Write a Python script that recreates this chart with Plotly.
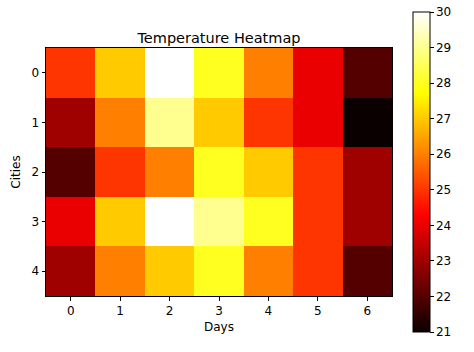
import numpy as np
import plotly.graph_objects as go

days = [0, 1, 2, 3, 4, 5, 6]
cities = [0, 1, 2, 3, 4]
temps = [
    [25, 27, 30, 28, 26, 24, 22],
    [23, 26, 29, 27, 25, 24, 21],
    [22, 25, 26, 28, 27, 25, 23],
    [24, 27, 30, 29, 28, 25, 23],
    [23, 26, 27, 28, 26, 25, 22],
]
cb_ticks = [21, 22, 23, 24, 25, 26, 27, 28, 29, 30]

def hot(x):
    r = min(1.0, 0.0416 + (1 - 0.0416) * x / 0.365079)
    g = min(1.0, max(0.0, (x - 0.365079) / (0.746032 - 0.365079)))
    b = min(1.0, max(0.0, (x - 0.746032) / (1 - 0.746032)))
    return f"rgb({int(round(r*255))},{int(round(g*255))},{int(round(b*255))})"

stops = sorted(set(list(np.linspace(0, 1, 41)) + [0.365079, 0.746032]))
colorscale = [[float(s), hot(s)] for s in stops]

font = "DejaVu Sans"
fs = 12
fig = go.Figure(go.Heatmap(
    z=temps, x=days, y=cities,
    colorscale=colorscale, zmin=21, zmax=30,
    xgap=0, ygap=0,
    colorbar=dict(
        x=1.061, xanchor="left", xref="paper",
        y=0.5, yanchor="middle",
        len=320, lenmode="pixels",
        thickness=17, thicknessmode="pixels",
        outlinewidth=1, outlinecolor="black",
        tickvals=cb_ticks, ticks="outside", ticklen=3.5, tickcolor="black",
        tickfont=dict(family=font, size=fs, color="black"),
        xpad=0, ypad=0,
    ),
))

fig.update_layout(
    width=474, height=352,
    margin=dict(l=46, r=82, t=48, b=56),
    paper_bgcolor="white", plot_bgcolor="white",
    title=dict(text="Temperature Heatmap", x=0.462, xanchor="center",
               y=1 - 38/352, yanchor="middle",
               font=dict(family=font, size=14.5, color="black")),
    font=dict(family=font, size=fs, color="black"),
)
fig.update_xaxes(
    title=dict(text="Days", font=dict(family=font, size=fs), standoff=5),
    tickvals=days, ticks="outside", ticklen=3.5, tickcolor="black",
    showline=True, linecolor="black", linewidth=1, mirror=True,
    showgrid=False, zeroline=False, range=[-0.5, 6.5],
    tickfont=dict(family=font, size=fs),
)
fig.update_yaxes(
    title=dict(text="Cities", font=dict(family=font, size=fs), standoff=8),
    tickvals=cities, ticks="outside", ticklen=3.5, tickcolor="black",
    showline=True, linecolor="black", linewidth=1, mirror=True,
    showgrid=False, zeroline=False, range=[4.5, -0.5],
    tickfont=dict(family=font, size=fs),
)

fig.write_html("out.html")
